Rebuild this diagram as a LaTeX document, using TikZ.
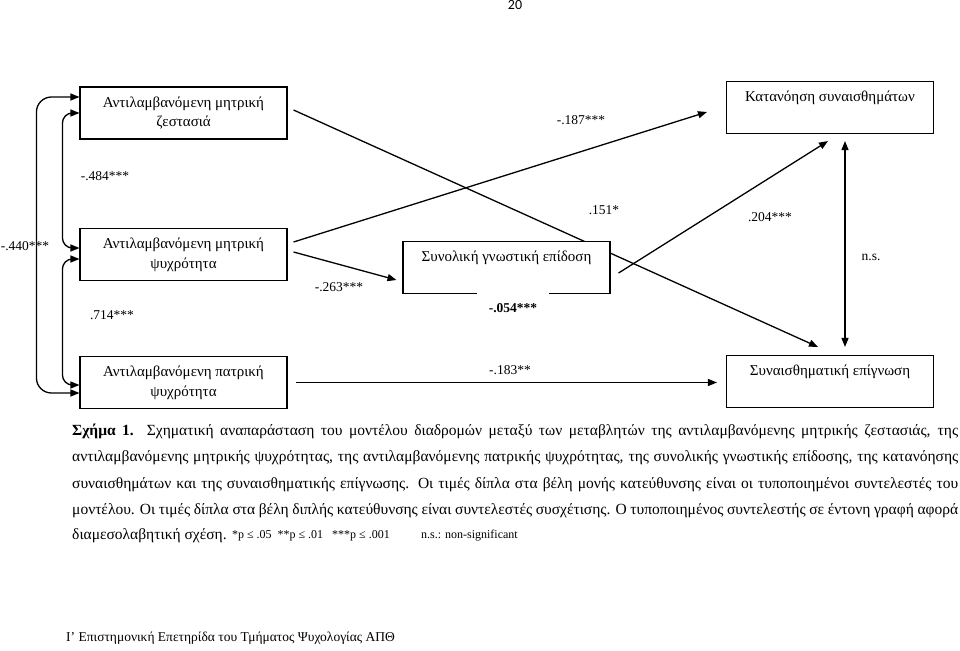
\documentclass[tikz,border=0pt]{standalone}
\usepackage{fontspec}
\setmainfont{Liberation Serif}
\newfontfamily\pagenumfont{Carlito}
\usetikzlibrary{arrows.meta,calc,backgrounds}
\begin{document}
\begin{tikzpicture}[x=1pt,y=-1pt,
  box/.style={draw, line width=1.1pt, fill=white, minimum width=207pt, minimum height=52pt,
    inner sep=0pt, align=center, font=\fontsize{15}{20}\selectfont},
  coef/.style={font=\fontsize{13.5}{16}\selectfont, inner sep=1pt},
  tipA/.tip={Triangle[length=9pt,width=7pt]},
  pathar/.style={line width=1.3pt, -tipA},
  corr/.style={line width=1.3pt, tipA-tipA},
  capline/.style={anchor=west, inner sep=0pt, font=\fontsize{15.5}{20}\selectfont},
  small/.style={inner sep=0pt, font=\fontsize{12}{14}\selectfont},
]
\useasboundingbox (0,0) rectangle (960,650);

% boxes
\node[box] (b1) at (183.5,113) {\strut Αντιλαμβανόμενη μητρική\\\strut ζεστασιά};
\node[box] (b2) at (183.5,254.5) {\strut Αντιλαμβανόμενη μητρική\\\strut ψυχρότητα};
\node[box] (b3) at (183.5,382.5) {\strut Αντιλαμβανόμενη πατρική\\\strut ψυχρότητα};
\node[box] (b4) at (506.5,267.5) {\strut Συνολική γνωστική επίδοση\\\strut};
\node[box] (b5) at (830,107.5) {\strut Κατανόηση συναισθημάτων\\\strut};
\node[box] (b6) at (830,381.5) {\strut Συναισθηματική επίγνωση\\\strut};

% connector end points
\coordinate (p1s) at ($(b1.east)+(6,-3)$);
\coordinate (p1e) at ($(b6.north)+(-12,-8)$);
\coordinate (p2s) at ($(b2.east)+(6,-12.5)$);
\coordinate (p2e) at ($(b5.west)+(-19,4.5)$);
\coordinate (p3s) at ($(b2.east)+(6,-2.5)$);
\coordinate (p3e) at ($(b4.west)+(-6,12.5)$);
\coordinate (p4s) at ($(b4.east)+(8,5.5)$);
\coordinate (p4e) at ($(b5.south)+(-2,7)$);
\coordinate (p5s) at ($(b3.east)+(8,0)$);
\coordinate (p5e) at ($(b6.west)+(-9,1)$);
\coordinate (p6s) at ($(b5.south)+(15,7)$);
\coordinate (p6e) at ($(b6.north)+(15,-8)$);
\coordinate (c1a) at ($(b1.west)+(0,-16)$);
\coordinate (c1b) at ($(b3.west)+(0,10.5)$);
\coordinate (c2a) at (b1.west);
\coordinate (c2b) at ($(b2.west)+(0,-6.5)$);
\coordinate (c3a) at ($(b2.west)+(0,4.5)$);
\coordinate (c3b) at ($(b3.west)+(0,2.5)$);

\begin{pgfonlayer}{background}
\draw[pathar] (p1s) -- (p1e);
\draw[pathar] (p2s) -- (p2e);
\draw[pathar] (p3s) -- (p3e);
\draw[pathar] (p4s) -- (p4e);
\draw[pathar] (p5s) -- (p5e);
\draw[corr] (p6s) -- (p6e);
\draw[corr, rounded corners=15pt] (c1a) -- ++(-43,0) |- (c1b);
\draw[corr, rounded corners=10pt] (c2a) -- ++(-17,0) |- (c2b);
\draw[corr, rounded corners=10pt] (c3a) -- ++(-17,0) |- (c3b);
\end{pgfonlayer}

% coefficients
\node[coef] (l484) at (105,176) {-.484***};
\node[coef] (l440) at (25,246) {-.440***};
\node[coef] (l714) at (112,315) {.714***};
\node[coef] (l263) at (339,287) {-.263***};
\node[coef] (l187) at (581,120) {-.187***};
\node[coef] (l151) at (604,210) {.151*};
\node[coef, fill=white, minimum width=72pt, minimum height=32pt] (l054) at (513,308) {\textbf{-.054***}};
\node[coef] (l204) at (770,217) {.204***};
\node[coef] (lns) at (871,257) {n.s.};
\node[coef] (l183) at (510,370) {-.183**};

% caption
\node[capline] (cap1) at (72,431) {\hbox to 886pt{\spaceskip=.25em plus 2em minus .1em\textbf{Σχήμα 1.} Σχηματική αναπαράσταση του μοντέλου διαδρομών μεταξύ των μεταβλητών της αντιλαμβανόμενης μητρικής ζεστασιάς, της}};
\node[capline] (cap2) at (72,458) {\hbox to 886pt{\spaceskip=.25em plus 2em minus .1em αντιλαμβανόμενης μητρικής ψυχρότητας, της αντιλαμβανόμενης πατρικής ψυχρότητας, της συνολικής γνωστικής επίδοσης, της κατανόησης}};
\node[capline] (cap3) at (72,485) {\hbox to 886pt{\spaceskip=.25em plus 2em minus .1em συναισθημάτων και της συναισθηματικής επίγνωσης. Οι τιμές δίπλα στα βέλη μονής κατεύθυνσης είναι οι τυποποιημένοι συντελεστές του}};
\node[capline] (cap4) at (72,511) {\hbox to 886pt{\spaceskip=.25em plus 2em minus .1em μοντέλου. Οι τιμές δίπλα στα βέλη διπλής κατεύθυνσης είναι συντελεστές συσχέτισης. Ο τυποποιημένος συντελεστής σε έντονη γραφή αφορά}};
\node[capline] (cap5) at (72,536) {διαμεσολαβητική σχέση.};
\node[small, anchor=west] (pv) at ($(cap5.east)+(5,0)$) {*p ≤ .05\ \ **p ≤ .01\ \ \ ***p ≤ .001};
\node[small, anchor=east] (nsig) at (518,536) {n.s.: non-significant};

% footer and page number
\node[anchor=west, inner sep=0pt, font=\fontsize{13.5}{16}\selectfont] (foot) at (66,638) {Ι’ Επιστημονική Επετηρίδα του Τμήματος Ψυχολογίας ΑΠΘ};
\node[inner sep=0pt, font=\pagenumfont\fontsize{14}{16}\selectfont] (pg) at (515,5) {20};
\end{tikzpicture}
\end{document}
